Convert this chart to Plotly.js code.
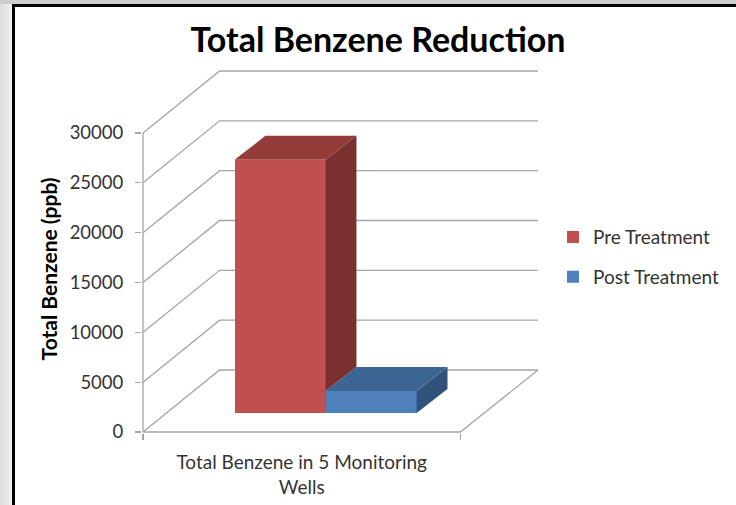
<!DOCTYPE html>
<html>
<head>
<meta charset="utf-8">
<script src="https://cdn.plot.ly/plotly-3.0.1.min.js"></script>
<style>
  html, body { margin: 0; padding: 0; }
  body { width: 736px; height: 505px; overflow: hidden; position: relative;
         background: linear-gradient(to right, #dcdcdc 0px, #efefef 12px); }
  #topstrip { position: absolute; left: 0; top: 0; width: 736px; height: 4px; background: #cdcdcd; }
  #chart { position: absolute; left: 12px; top: 4px; width: 721px; height: 498px;
           border-left: 3px solid #000; border-top: 3px solid #000; background: #fff; }
</style>
</head>
<body>
<div id="topstrip"></div>
<div id="chart"></div>
<script>
// ---- data ----
const categories = ["Total Benzene in 5 Monitoring Wells"];
const xTickLabels = ["Total Benzene in 5 Monitoring<br>Wells"];
const seriesNames = ["Pre Treatment", "Post Treatment"];
const preValues = [25400];
const postValues = [2200];
const yTickVals = [0, 5000, 10000, 15000, 20000, 25000, 30000];
const yTickText = ["0", "5000", "10000", "15000", "20000", "25000", "30000"];
const yTitle = "Total Benzene (ppb)";
const chartTitle = "Total Benzene Reduction";

// ---- geometry / style (oblique 3D projection) ----
const PX = 30000 / 299;          // value units per screen pixel
const DEPTH_X = 77;              // wall depth, x units
const DEPTH_Y = 62 * PX;         // wall depth, value units
const FLOOR_W = 319;             // front floor width
const BAR_LEFT = 92;
const BAR_W = 91.5;
const BAR_BASE = 19 * PX;        // bar front face sits inside the floor
const BAR_DX = 31;
const BAR_DY = 24 * PX;
const colors = {
  pre:  { front: "#C0504D", top: "#943C3A", side: "#7A302E" },
  post: { front: "#4F81BD", top: "#3D6594", side: "#31527B" }
};
const gridColor = "#A5A5A5";
const fontFam = "Lato, 'Open Sans', sans-serif";

const yMax = 30000;
const traces = [];
const seriesVals = [preValues, postValues];
const seriesCols = [colors.pre, colors.post];

// front faces as bars
seriesVals.forEach((vals, i) => {
  const x0 = BAR_LEFT + i * BAR_W;
  traces.push({
    type: "bar", name: seriesNames[i], legendgroup: "g" + i,
    x: [x0 + BAR_W / 2], y: vals, base: [BAR_BASE], width: [BAR_W],
    marker: { color: seriesCols[i].front, line: { width: 0 } },
    hoverinfo: "skip"
  });
});

// side and top faces
seriesVals.forEach((vals, i) => {
  const x0 = BAR_LEFT + i * BAR_W, x1 = x0 + BAR_W;
  const v = vals[0];
  const top = BAR_BASE + v;
  const next = seriesVals[i + 1];
  const sideBase = BAR_BASE + (next ? Math.min(next[0], v) : 0);
  traces.push({
    type: "scatter", mode: "lines", fill: "toself", showlegend: false, hoverinfo: "skip",
    x: [x1, x1, x1 + BAR_DX, x1 + BAR_DX, x1],
    y: [sideBase, top, top + BAR_DY, sideBase + BAR_DY, sideBase],
    fillcolor: seriesCols[i].side, line: { width: 0, color: seriesCols[i].side }
  });
  traces.push({
    type: "scatter", mode: "lines", fill: "toself", showlegend: false, hoverinfo: "skip",
    x: [x0, x1, x1 + BAR_DX, x0 + BAR_DX, x0],
    y: [top, top, top + BAR_DY, top + BAR_DY, top],
    fillcolor: seriesCols[i].top, line: { width: 0, color: seriesCols[i].top }
  });
});

// wall & floor grid as shapes below traces
const shapes = [];
yTickVals.forEach(v => {
  shapes.push({
    type: "path", xref: "x", yref: "y", layer: "below",
    path: `M0,${v} L${DEPTH_X},${v + DEPTH_Y} L${DEPTH_X + FLOOR_W + 1},${v + DEPTH_Y}`,
    line: { color: gridColor, width: 1.3 }
  });
});
shapes.push({
  type: "path", xref: "x", yref: "y", layer: "below",
  path: `M0,0 L${FLOOR_W},0 L${FLOOR_W + DEPTH_X + 1},${DEPTH_Y}`,
  line: { color: gridColor, width: 1.3 }
});
shapes.push({
  type: "line", xref: "x", yref: "y", layer: "below",
  x0: 0, x1: 0, y0: 0, y1: yMax,
  line: { color: gridColor, width: 1.3 }
});

const layout = {
  width: 721, height: 498,
  margin: { l: 127, r: 191, t: 53, b: 72 },
  paper_bgcolor: "#ffffff", plot_bgcolor: "rgba(0,0,0,0)",
  showlegend: true,
  title: {
    text: "<b>" + chartTitle + "</b>",
    font: { family: fontFam, size: 34, color: "#000" },
    xref: "container", x: 0.5035, xanchor: "center",
    yref: "container", y: 0.934, yanchor: "middle"
  },
  xaxis: {
    range: [-1, 402], showgrid: false, zeroline: false, showline: false,
    tickmode: "array", tickvals: [FLOOR_W / 2], ticktext: xTickLabels,
    ticks: "", ticklabelstandoff: 16,
    tickfont: { family: fontFam, size: 19, color: "#333" },
    minor: { tickmode: "array", tickvals: [0, FLOOR_W], ticks: "outside", ticklen: 6, tickwidth: 1.3, tickcolor: gridColor, showgrid: false },
    fixedrange: true
  },
  yaxis: {
    range: [-PX, 372 * PX], showgrid: false, zeroline: false, showline: false,
    tickmode: "array", tickvals: yTickVals, ticktext: yTickText,
    ticks: "outside", ticklen: 6, tickwidth: 1.3, tickcolor: gridColor,
    ticklabelstandoff: 8,
    tickfont: { family: fontFam, size: 18.5, color: "#333" },
    fixedrange: true
  },
  annotations: [{
    text: "<b>" + yTitle + "</b>", textangle: -90, showarrow: false,
    xref: "paper", x: -0.2308, xanchor: "center",
    yref: "paper", y: 0.4397, yanchor: "middle",
    font: { family: fontFam, size: 21, color: "#000" }
  }],
  legend: {
    x: 1.025, xanchor: "left", y: 0.576, yanchor: "top",
    traceorder: "grouped", tracegroupgap: 12,
    font: { family: fontFam, size: 19, color: "#333" },
    bgcolor: "rgba(0,0,0,0)"
  },
  shapes: shapes,
  bargap: 0
};

Plotly.newPlot("chart", traces, layout, { staticPlot: true, displayModeBar: false });
</script>
</body>
</html>
